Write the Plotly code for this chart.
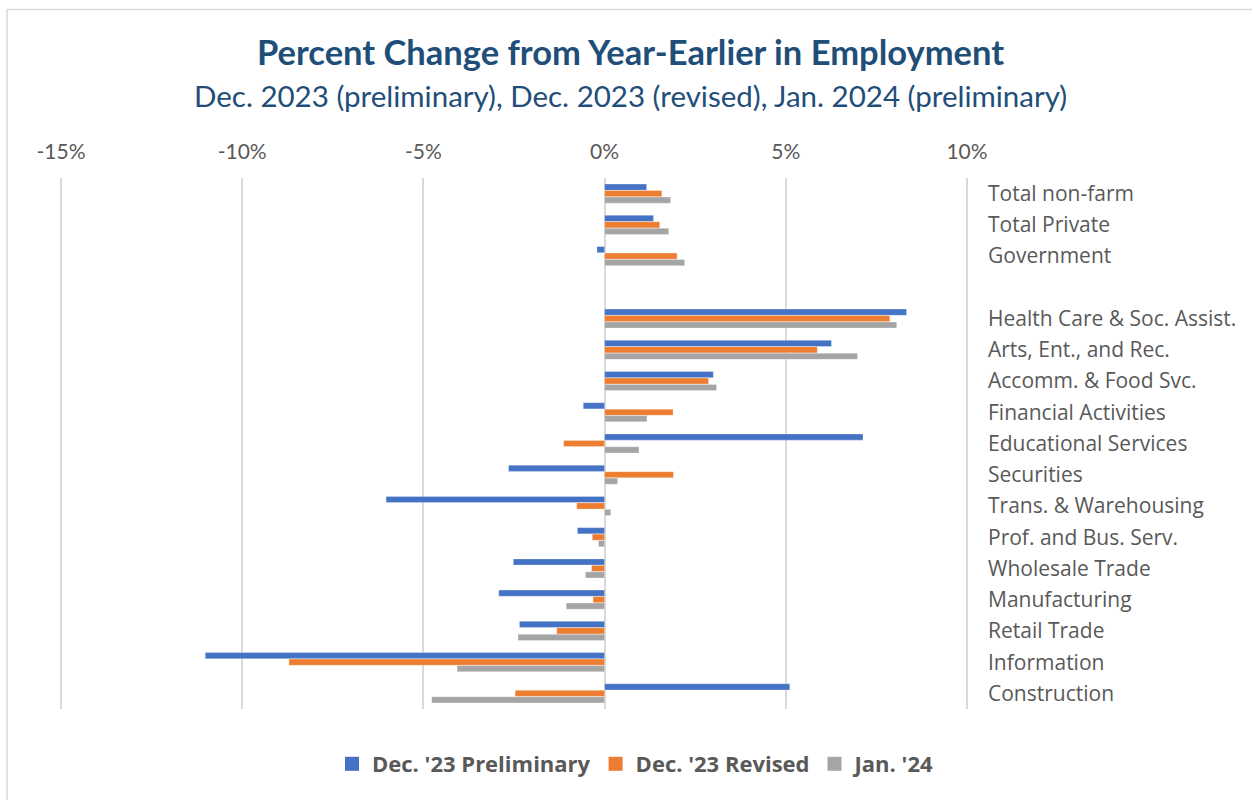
import plotly.graph_objects as go

categories = [
    "Total non-farm", "Total Private", "Government", " ",
    "Health Care & Soc. Assist.", "Arts, Ent., and Rec.", "Accomm. & Food Svc.",
    "Financial Activities", "Educational Services", "Securities",
    "Trans. & Warehousing", "Prof. and Bus. Serv.", "Wholesale Trade",
    "Manufacturing", "Retail Trade", "Information", "Construction",
]
dec23_prelim = [1.16, 1.35, -0.21, None, 8.33, 6.26, 3.00, -0.59, 7.13, -2.65,
                -6.03, -0.75, -2.52, -2.92, -2.35, -11.02, 5.11]
dec23_revised = [1.58, 1.52, 2.00, None, 7.87, 5.87, 2.87, 1.89, -1.13, 1.90,
                 -0.77, -0.34, -0.36, -0.32, -1.32, -8.71, -2.47]
jan24 = [1.82, 1.77, 2.21, None, 8.06, 6.98, 3.09, 1.17, 0.95, 0.36,
         0.17, -0.17, -0.53, -1.06, -2.39, -4.07, -4.77]

series = [
    ("Dec. '23 Preliminary", dec23_prelim, "#4472C4"),
    ("Dec. '23 Revised", dec23_revised, "#ED7D31"),
    ("Jan. '24", jan24, "#A5A5A5"),
]
x_ticks = [-15, -10, -5, 0, 5, 10]
x_tick_labels = ["-15%", "-10%", "-5%", "0%", "5%", "10%"]

fig = go.Figure()
for name, vals, color in series:
    fig.add_trace(go.Bar(
        y=categories, x=vals, name=name, orientation="h", showlegend=False,
        legendgroup=name,
        marker=dict(color=color, line=dict(color="rgba(255,255,255,0.6)", width=0.5)),
    ))
# legend entries with square swatches (no visible marks on the plot)
for name, vals, color in series:
    fig.add_trace(go.Scatter(
        x=[None], y=[None], mode="markers", name=name, legendgroup=name,
        marker=dict(symbol="square", size=14, color=color),
        hoverinfo="skip",
    ))

W, H = 1253, 800
L, R, T, B = 59, 969, 178, 709

def px_x(p):
    return (p - L) / (R - L)

def px_y(p):
    return (B - p) / (B - T)

fig.update_layout(
    width=W, height=H,
    margin=dict(l=L, r=W - R, t=T, b=H - B),
    paper_bgcolor="white", plot_bgcolor="white",
    barmode="group", bargap=0.38, bargroupgap=0.04,
    showlegend=True,
    legend=dict(
        orientation="h", x=px_x(636), xanchor="center", y=px_y(764), yanchor="middle",
        font=dict(family="Open Sans", size=22, color="#595959", weight="bold"),
        traceorder="normal", itemwidth=30,
    ),
    annotations=[
        dict(text="<b>Percent Change from Year-Earlier in Employment</b>",
             xref="paper", yref="paper", x=px_x(630), y=px_y(52),
             xanchor="center", yanchor="middle", showarrow=False,
             font=dict(family="Lato", size=34.5, color="#1F4E79")),
        dict(text="Dec. 2023 (preliminary), Dec. 2023 (revised), Jan. 2024 (preliminary)",
             xref="paper", yref="paper", x=px_x(630), y=px_y(96),
             xanchor="center", yanchor="middle", showarrow=False,
             font=dict(family="Lato", size=29.5, color="#1F4E79")),
    ],
    shapes=[
        dict(type="line", xref="paper", yref="paper",
             x0=px_x(7), x1=px_x(1252), y0=px_y(9.5), y1=px_y(9.5),
             line=dict(color="#D9D9D9", width=1.5)),
        dict(type="line", xref="paper", yref="paper",
             x0=px_x(7), x1=px_x(7), y0=px_y(9.5), y1=px_y(800),
             line=dict(color="#D9D9D9", width=1.5)),
    ],
)

fig.update_xaxes(
    range=[-15.055, 10.055], side="top", tickvals=x_ticks, ticktext=x_tick_labels,
    showgrid=True, gridcolor="#D9D9D9", gridwidth=1.5,
    zeroline=True, zerolinecolor="#D9D9D9", zerolinewidth=1.5,
    showline=False, ticks="", ticklabelstandoff=14,
    tickfont=dict(family="Lato", size=21, color="#595959"),
)
fig.update_yaxes(
    type="category", categoryorder="array", categoryarray=categories,
    autorange="reversed", side="right", showgrid=False, zeroline=False,
    showline=False, ticks="", ticklabelstandoff=18,
    tickfont=dict(family="Open Sans", size=21, color="#595959"),
)

fig.write_html("out.html")
